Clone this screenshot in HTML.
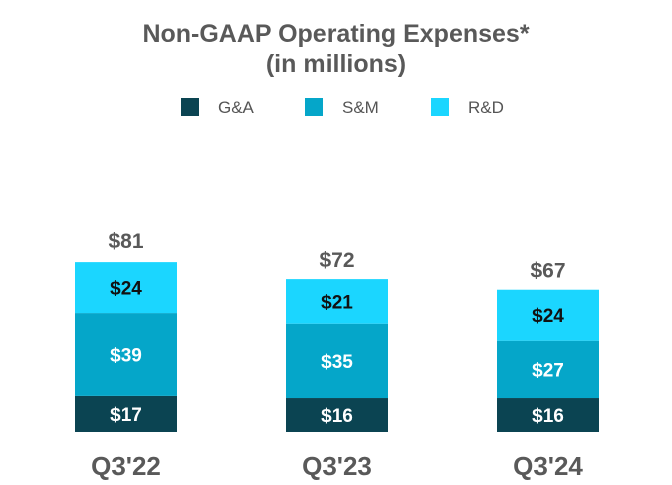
<!DOCTYPE html>
<html><head><meta charset="utf-8"><style>
body{margin:0;background:#fff;width:672px;height:480px;overflow:hidden;font-family:"Liberation Sans",sans-serif}
</style></head><body>
<svg width="672" height="480" id="c">
<text x="336" y="42" text-anchor="middle" font-size="25" font-weight="bold" fill="#595959">Non-GAAP Operating Expenses*</text>
<text x="336" y="72" text-anchor="middle" font-size="25" font-weight="bold" fill="#595959">(in millions)</text>
<g id="legend"></g>
<g id="bars"></g>
</svg>
<script>
const categories=["Q3'22","Q3'23","Q3'24"];
const gaValues=[17,16,16];
const smValues=[39,35,27];
const rdValues=[24,21,24];
const totals=[81,72,67];
const seriesNames=["G&A","S&M","R&D"];
const colors=["#0b4452","#05a6c9","#1bd6ff"];
const ns="http://www.w3.org/2000/svg";
const svg=document.getElementById('c');
const base=432, scale=172/81, barW=102;
function xPos(i){return 75+i*211;}
function yLen(v){return v*scale;}
function mk(tag,attrs,parent){const e=document.createElementNS(ns,tag);for(const k in attrs)e.setAttribute(k,attrs[k]);parent.appendChild(e);return e;}
const lg=document.getElementById('legend');
const lx=[181,305,431];
seriesNames.forEach((n,i)=>{
 const r=mk('rect',{x:lx[i],y:98,width:18,height:18,fill:colors[i]},lg);
 
 
 const t=mk('text',{x:lx[i]+37,y:113,'font-size':17,fill:'#555'},lg);
 t.textContent=n;
 
 
});
const bg=document.getElementById('bars');
const series=[gaValues,smValues,rdValues];
categories.forEach((c,i)=>{
 let y=base;
 series.forEach((s,j)=>{
  const h=yLen(s[i]);
  y-=h;
  const r=mk('rect',{x:xPos(i),y:y,width:barW,height:h,fill:colors[j]},bg);
  
  
  const t=mk('text',{x:xPos(i)+barW/2,y:y+h/2+7,'text-anchor':'middle','font-size':19,'font-weight':'bold',fill:j==2?'#111':'#fff'},bg);
  t.textContent='$'+s[i];
  
  
 });
 const tt=mk('text',{x:xPos(i)+barW/2,y:base-yLen(totals[i])-12,'text-anchor':'middle','font-size':21,'font-weight':'bold',fill:'#595959'},bg);
 tt.textContent='$'+totals[i];
 
 
 const cl=mk('text',{x:xPos(i)+barW/2,y:475,'text-anchor':'middle','font-size':26,'font-weight':'bold',fill:'#595959'},bg);
 cl.textContent=c;
 
 
});
</script>
</body></html>
